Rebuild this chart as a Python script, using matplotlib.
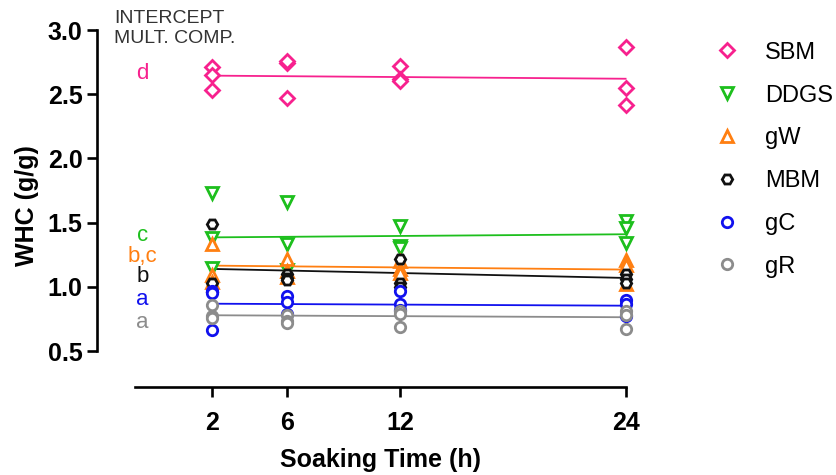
#!/usr/bin/env python
# -*- coding: utf-8 -*-
"""Water holding capacity vs soaking time, per ingredient."""
import numpy as np
import matplotlib
matplotlib.use('Agg')
import matplotlib.pyplot as plt
from matplotlib.lines import Line2D

plt.rcParams['font.family'] = ['Liberation Sans', 'DejaVu Sans']

TIMES = [2, 6, 12, 24]
NAMES = ['SBM', 'DDGS', 'gW', 'MBM', 'gC', 'gR']

# replicate values at each soaking time (g/g)
SBM = [[2.71, 2.65, 2.53], [2.74, 2.76, 2.47], [2.72, 2.62, 2.60], [2.87, 2.55, 2.42]]
DDGS = [[1.73, 1.38, 1.15], [1.66, 1.33, 1.13], [1.47, 1.32, 1.30], [1.51, 1.46, 1.34]]
GW = [[1.33, 1.09, 1.04], [1.22, 1.12, 1.08], [1.20, 1.14, 1.11], [1.21, 1.17, 1.02]]
MBM = [[1.49, 1.03, 0.96], [1.10, 1.07, 1.05], [1.22, 1.03, 1.00], [1.10, 1.06, 1.03]]
GC = [[0.97, 0.95, 0.66], [0.93, 0.88, 0.79], [0.97, 0.87, 0.82], [0.90, 0.87, 0.77]]
GR = [[0.86, 0.77, 0.76], [0.78, 0.73, 0.72], [0.81, 0.79, 0.69], [0.81, 0.78, 0.67]]

# linear fits (intercept, slope)
INTERCEPT = [2.647, 1.383, 1.168, 1.146, 0.870, 0.780]
SLOPE = [-0.0011, 0.0011, -0.0014, -0.0032, -0.0007, -0.0007]

# letters of the intercept multiple comparison
GROUP = ['d', 'c', 'b,c', 'b', 'a', 'a']
GROUP_Y = [2.665, 1.40, 1.24, 1.08, 0.905, 0.726]

COLORS = ['#F7218E', '#1DBF1D', '#FF7F11', '#111111', '#1111EE', '#8C8C8C']
MARKERS = ['D', 'v', '^', 'H', 'o', 'o']
MSIZE = [7, 8.5, 8.5, 7.5, 7.5, 7.5]


def main():
    data = [SBM, DDGS, GW, MBM, GC, GR]
    fig = plt.figure(figsize=(8.37, 4.75), dpi=100)
    ax = fig.add_axes([0.1159, 0.1853, 0.645, 0.765])

    xfit = np.array([TIMES[0], TIMES[-1]])
    for i, vals in enumerate(data):
        ax.plot(xfit, INTERCEPT[i] + SLOPE[i] * xfit, color=COLORS[i], lw=1.3, zorder=2)
    for i, vals in enumerate(data):
        for t, reps in zip(TIMES, vals):
            ax.plot([t] * len(reps), reps, ls='none', marker=MARKERS[i],
                    ms=MSIZE[i], mfc='white', mec=COLORS[i], mew=2, zorder=3)
        ax.text(-1.67, GROUP_Y[i], GROUP[i], color=COLORS[i], fontsize=16,
                ha='center', va='center')

    ax.text(-3.2, 3.155, 'INTERCEPT\nMULT. COMP.', fontsize=14, clip_on=False,
            color='#333333', ha='left', va='top', linespacing=1.25)

    ax.set_xlim(-4.1, 24.6)
    ax.set_ylim(0.22, 3.05)
    for s in ['top', 'right']:
        ax.spines[s].set_visible(False)
    ax.spines['left'].set_bounds(0.5, 3.0)
    ax.spines['bottom'].set_bounds(-2.1, 24)
    for s in ['left', 'bottom']:
        ax.spines[s].set_linewidth(1.9)
    ax.set_xticks(TIMES)
    ax.set_yticks([0.5, 1.0, 1.5, 2.0, 2.5, 3.0])
    ax.yaxis.set_major_formatter(matplotlib.ticker.FormatStrFormatter('%.1f'))
    ax.tick_params(axis='both', width=1.9, length=7.5, labelsize=18)
    ax.tick_params(axis='x', pad=10)
    ax.tick_params(axis='y', pad=3)
    for lab in ax.get_xticklabels() + ax.get_yticklabels():
        lab.set_fontweight('bold')
    ax.set_xlabel('Soaking Time (h)', fontsize=18, fontweight='bold')
    ax.xaxis.set_label_coords(0.526, -0.168)
    ax.set_ylabel('WHC (g/g)', fontsize=18, fontweight='bold', labelpad=6)

    handles = [Line2D([], [], ls='none', marker=MARKERS[i], ms=MSIZE[i], mfc='white',
                      mec=COLORS[i], mew=2) for i in range(len(NAMES))]
    fig.legend(handles, NAMES, loc='upper left', bbox_to_anchor=(0.843, 0.932),
               frameon=False, fontsize=17, labelspacing=0.88, handlelength=1.0,
               handletextpad=1.12, borderaxespad=0)

    fig.savefig('out.png', dpi=100)
    plt.close(fig)


if __name__ == '__main__':
    main()
